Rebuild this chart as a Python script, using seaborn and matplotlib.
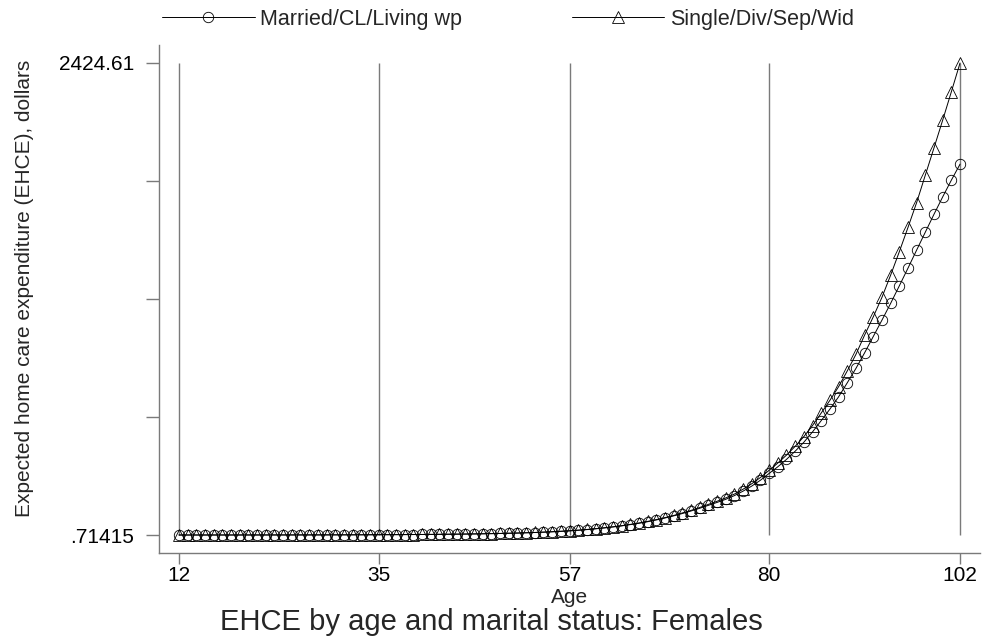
import numpy as np
import pandas as pd
import matplotlib
matplotlib.use("Agg")
import matplotlib.pyplot as plt
import seaborn as sns

ages = list(range(12, 103))

married = [
    0.71415, 0.725, 0.74, 0.76, 0.78, 0.80, 0.83, 0.86, 0.89, 0.92,
    0.95, 0.98, 1.02, 1.06, 1.11, 1.17, 1.24, 1.32, 1.41, 1.52,
    1.64, 1.78, 1.94, 2.12, 2.32, 2.54, 2.79, 3.07, 3.38, 3.73,
    4.12, 4.56, 5.05, 5.6, 6.2, 6.9, 7.7, 8.6, 9.6, 10.7,
    12.0, 13.5, 15.2, 17.2, 19.5, 22.0, 25.0, 28.5, 32.5, 37.0,
    42.0, 47.5, 54.0, 61.0, 69.0, 78.0, 88.0, 99.0, 111.0, 124.0,
    138.0, 153.0, 168.0, 184.0, 203.0, 226.0, 252.0, 282.0, 317.0, 351.0,
    389.0, 431.0, 477.0, 530.0, 588.0, 647.0, 710.0, 782.0, 856.0, 936.0,
    1020.0, 1104.0, 1190.0, 1280.0, 1371.0, 1464.0, 1556.0, 1648.0, 1737.0, 1823.0,
    1905.0,
]

single = [
    0.74, 0.75, 0.77, 0.79, 0.81, 0.83, 0.86, 0.89, 0.92, 0.95,
    0.98, 1.01, 1.05, 1.09, 1.14, 1.20, 1.27, 1.35, 1.44, 1.55,
    1.68, 1.82, 1.98, 2.17, 2.38, 2.60, 2.85, 3.14, 3.46, 3.81,
    4.21, 4.66, 5.16, 5.72, 6.36, 7.07, 7.89, 8.80, 9.82, 10.9,
    12.3, 13.8, 15.5, 17.6, 19.9, 22.5, 25.6, 29.2, 33.2, 37.8,
    42.9, 48.5, 55.2, 62.4, 70.6, 79.8, 90.1, 101.0, 114.0, 127.0,
    142.0, 158.0, 174.0, 191.0, 211.0, 236.0, 264.0, 296.0, 333.0, 370.0,
    411.0, 456.0, 506.0, 563.0, 627.0, 692.0, 762.0, 843.0, 928.0, 1027.0,
    1121.0, 1221.0, 1335.0, 1455.0, 1580.0, 1708.0, 1849.0, 1989.0, 2131.0, 2277.0,
    2424.61,
]

groups = ["Married/CL/Living wp", "Single/Div/Sep/Wid"]
x_ticks = [12, 35, 57, 80, 102]
y_tick_labels = [".71415", "", "", "", "2424.61"]

df = pd.DataFrame({
    "Age": ages * 2,
    "EHCE": married + single,
    "Status": [groups[0]] * len(ages) + [groups[1]] * len(ages),
})

sns.set_theme(style="white")
plt.rcParams["font.family"] = ["Liberation Sans", "DejaVu Sans"]

fig = plt.figure(figsize=(9.83, 6.44), dpi=100)
ax = fig.add_axes([159 / 983, 1 - 553 / 644, (980 - 159) / 983, (553 - 45) / 644])

grid_col = "#7a7a7a"
y_lo, y_hi = min(married + single), max(married + single)
y_ticks = np.linspace(y_lo, y_hi, 5)

# vertical reference lines at the labelled ages
ax.vlines(x_ticks, y_lo, y_hi, color=grid_col, lw=1.0, zorder=0)

sns.lineplot(
    data=df, x="Age", y="EHCE", style="Status",
    markers={groups[0]: "o", groups[1]: "^"}, dashes=False,
    color="black", lw=0.7, markersize=7.5,
    markerfacecolor="none", markeredgecolor="black", markeredgewidth=0.6,
    legend=False, ax=ax, zorder=3,
)
lines = ax.get_lines()[-2:]
lines[1].set_markersize(8.3)

ax.set_xlim(9.695, 104.3)
ax.set_ylim(y_lo - 92.4, y_hi + 92.4)
ax.set_xticks(x_ticks)
ax.set_xticklabels([str(t) for t in x_ticks])
ax.set_yticks(y_ticks)
ax.set_yticklabels(y_tick_labels)

for side in ("top", "right"):
    ax.spines[side].set_visible(False)
for side in ("left", "bottom"):
    ax.spines[side].set_color(grid_col)
    ax.spines[side].set_linewidth(1.0)

ax.tick_params(axis="both", which="major", direction="out", width=1.0,
               color=grid_col, labelsize=15, labelcolor="black")
ax.tick_params(axis="y", length=9.4, pad=8.5, left=True)
ax.tick_params(axis="x", length=8.0, pad=1.5, bottom=True)

ax.set_xlabel("Age", fontsize=15)
ax.xaxis.set_label_coords(0.5, (553 - 603) / 508)
ax.xaxis.label.set_va("baseline")
ax.set_ylabel("Expected home care expenditure (EHCE), dollars", fontsize=15)
ax.yaxis.set_label_coords((34 - 159) / 821, 0.52)

fig.text(0.5, 1 - 622 / 644, "EHCE by age and marital status: Females",
         ha="center", va="center", fontsize=21)

fig.legend(lines, groups, loc="center left", bbox_to_anchor=(162 / 983, 1 - 19 / 644),
           ncol=2, frameon=False, fontsize=15.5, handlelength=4.3, handletextpad=0.25,
           columnspacing=5.1, borderaxespad=0, borderpad=0, numpoints=1)

fig.savefig("out.png", dpi=100, facecolor="white")
